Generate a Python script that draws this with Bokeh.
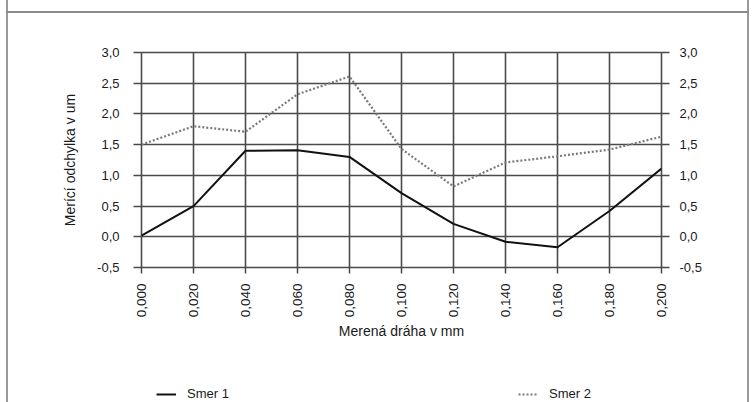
from bokeh.plotting import figure
from bokeh.layouts import column
from bokeh.models import (Range1d, LinearAxis, FixedTicker, CustomJSTickFormatter,
                          Legend, LegendItem, InlineStyleSheet)
from bokeh.embed import file_html
from bokeh.resources import INLINE
import math

# Data
x_vals = [0.000, 0.020, 0.040, 0.060, 0.080, 0.100, 0.120, 0.140, 0.160, 0.180, 0.200]
smer1 = [0.02, 0.50, 1.40, 1.41, 1.30, 0.71, 0.21, -0.08, -0.17, 0.42, 1.11]
smer2 = [1.50, 1.80, 1.71, 2.32, 2.61, 1.43, 0.82, 1.21, 1.31, 1.42, 1.63]
y_ticks = [-0.5, 0.0, 0.5, 1.0, 1.5, 2.0, 2.5, 3.0]
x_title = "Merená dráha v mm"
y_title = "Merící odchylka v um"
series_names = ["Smer 1", "Smer 2"]

FONT = "Liberation Sans"
TXT = "#1a1a1a"
GRID = "#4a4a4a"
S1_STYLE = dict(line_color="#111111", line_width=2)
S2_STYLE = dict(line_color="#7a7a7a", line_width=2.2, line_dash="2 2")

frame_css = InlineStyleSheet(css="""
:host { position: relative; }
:host::before { content: ""; position: absolute; left: 6px; top: 0px; width: 743px;
  height: 402px; border-left: 2px solid #9a9a9a; border-right: 2px solid #9a9a9a;
  box-sizing: border-box; pointer-events: none; z-index: 10; }
:host::after { content: ""; position: absolute; left: 6px; top: 11px; width: 743px;
  height: 0px; border-top: 2px solid #8a8a8a; pointer-events: none; z-index: 10; }
""")

p = figure(width=755, height=380, output_backend="svg", toolbar_location=None,
           x_range=Range1d(0, 0.2), y_range=Range1d(-0.5, 3.0),
           min_border_left=141, min_border_right=94, min_border_top=52,
           min_border_bottom=113, y_axis_location=None)
p.outline_line_color = GRID
p.outline_line_width = 1.6
p.background_fill_color = "white"
p.border_fill_color = "white"

xfmt = CustomJSTickFormatter(code="return tick.toFixed(3).replace('.', ',');")
yfmt = CustomJSTickFormatter(code="return tick.toFixed(1).replace('.', ',');")

# x axis
xa = p.xaxis[0]
xa.ticker = FixedTicker(ticks=x_vals)
xa.formatter = xfmt
xa.major_label_orientation = math.pi / 2
xa.axis_line_color = None
xa.major_tick_in = 0
xa.major_tick_out = 6
xa.major_tick_line_color = GRID
xa.major_tick_line_width = 1.5
xa.minor_tick_line_color = None
xa.major_label_standoff = 10
xa.major_label_text_font = FONT
xa.major_label_text_font_size = "13.5px"
xa.major_label_text_color = TXT
xa.axis_label = x_title
xa.axis_label_text_font = FONT
xa.axis_label_text_font_size = "14px"
xa.axis_label_text_font_style = "normal"
xa.axis_label_text_color = TXT
xa.axis_label_standoff = 3

def make_yaxis(label=None):
    ax = LinearAxis(ticker=FixedTicker(ticks=y_ticks), formatter=yfmt)
    ax.axis_line_color = None
    ax.major_tick_in = 0
    ax.major_tick_out = 8
    ax.major_tick_line_color = GRID
    ax.major_tick_line_width = 1.5
    ax.minor_tick_line_color = None
    ax.major_label_text_font = FONT
    ax.major_label_text_font_size = "13px"
    ax.major_label_text_color = TXT
    if label:
        ax.axis_label = label
        ax.axis_label_text_font = FONT
        ax.axis_label_text_font_size = "14px"
        ax.axis_label_text_font_style = "normal"
        ax.axis_label_text_color = TXT
        ax.axis_label_standoff = 16
    return ax

yl = make_yaxis(y_title)
yl.major_label_standoff = 14
p.add_layout(yl, "left")
yr = make_yaxis()
yr.major_label_standoff = 10
p.add_layout(yr, "right")

p.xgrid.ticker = FixedTicker(ticks=x_vals)
p.ygrid.ticker = FixedTicker(ticks=y_ticks)
for g in (p.xgrid, p.ygrid):
    g.grid_line_color = GRID
    g.grid_line_width = 1.6

p.line(x_vals, smer1, **S1_STYLE)
p.line(x_vals, smer2, **S2_STYLE)

# legend strip below the chart (its frame is aligned with the chart frame)
lp = figure(width=755, height=22, output_backend="svg", toolbar_location=None,
            x_range=Range1d(0, 1), y_range=Range1d(0, 1),
            min_border=0, x_axis_location=None, y_axis_location=None)
lp.outline_line_color = None
lp.xgrid.visible = False
lp.ygrid.visible = False
lp.background_fill_color = "white"
lp.border_fill_color = "white"
# proxy renderers for the legend samples (their points lie outside the strip's range)
lr1 = lp.line([5, 6], [5, 6], **S1_STYLE)
lr2 = lp.line([5, 6], [5, 6], **S2_STYLE)

def make_legend(name, r, loc):
    return Legend(items=[LegendItem(label=name, renderers=[r])], location=loc,
                  border_line_color=None, background_fill_alpha=0,
                  padding=0, margin=0, glyph_width=20, glyph_height=14,
                  label_height=14, label_standoff=11, label_text_font=FONT,
                  label_text_font_size="13px", label_text_color=TXT)

lp.add_layout(make_legend(series_names[0], lr1, (15, 1)), "center")
lp.add_layout(make_legend(series_names[1], lr2, (377, 1)), "center")

layout = column(p, lp, spacing=0, stylesheets=[frame_css])

open("out.html", "w").write(file_html(layout, INLINE))
